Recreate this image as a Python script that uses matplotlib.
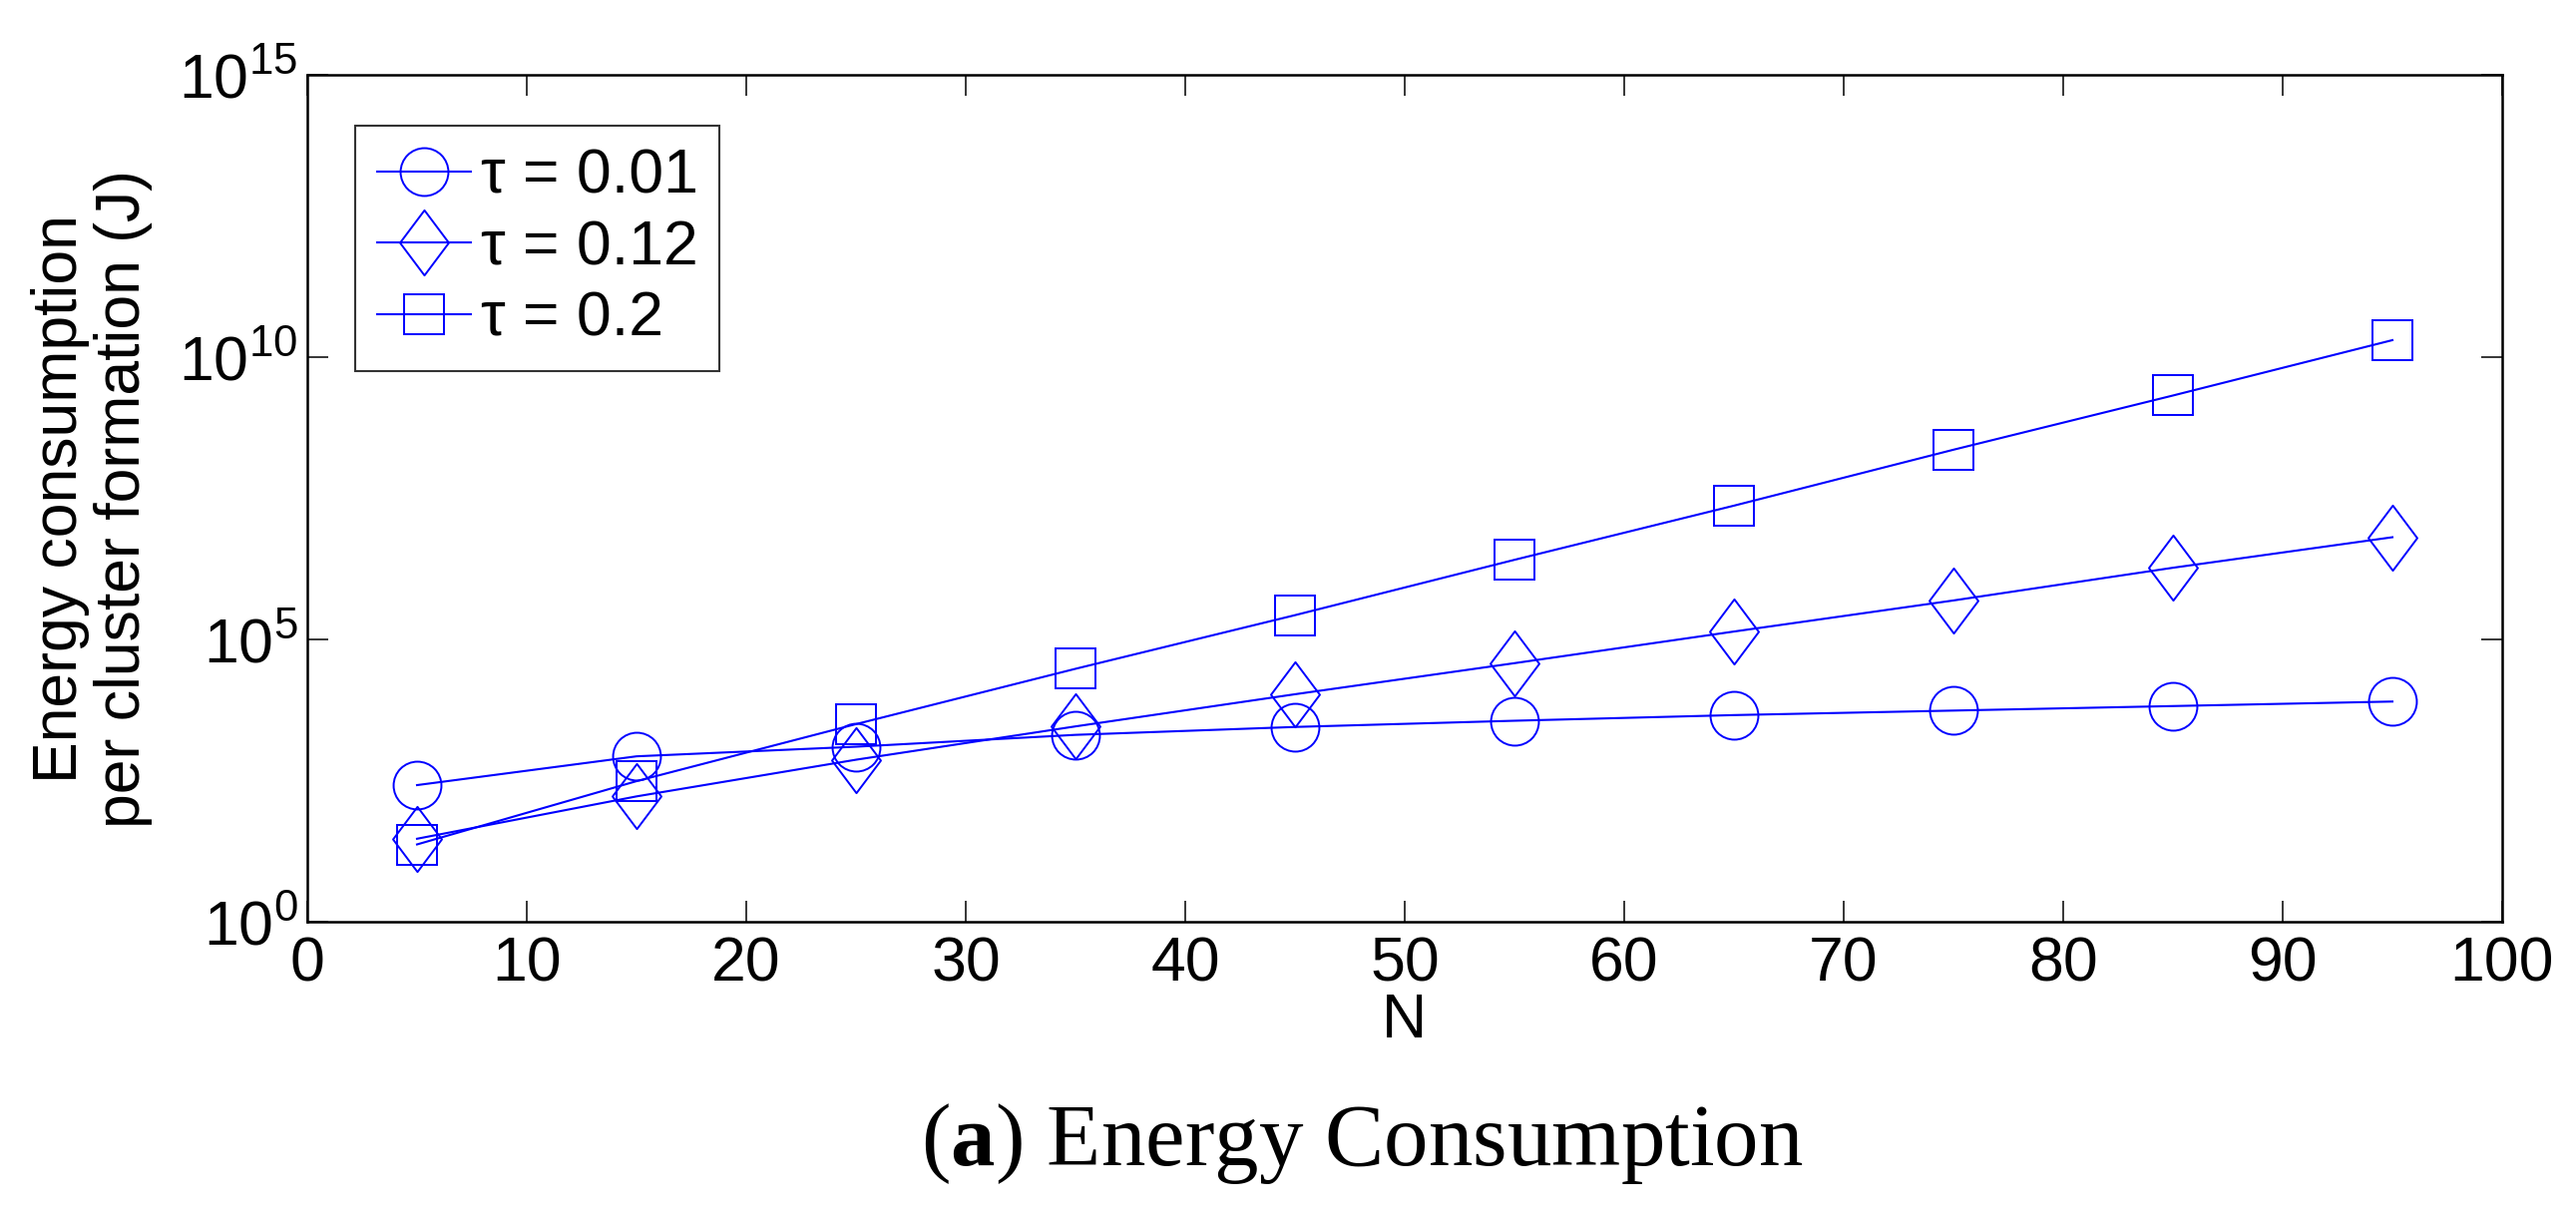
import numpy as np
import matplotlib
matplotlib.use('Agg')
import matplotlib.pyplot as plt
from matplotlib.path import Path
from matplotlib.ticker import FuncFormatter, NullLocator

plt.rcParams['font.family'] = ['Liberation Sans', 'DejaVu Sans']
plt.rcParams['mathtext.fontset'] = 'custom'
plt.rcParams['mathtext.rm'] = 'Liberation Sans'
plt.rcParams['mathtext.bf'] = 'Liberation Serif:bold'

# ---- data ----
N = [5, 15, 25, 35, 45, 55, 65, 75, 85, 95]
energy_tau_001 = [263, 851, 1259, 2042, 2818, 3631, 4571, 5495, 6607, 7943]
energy_tau_012 = [29.5, 166, 741, 2884, 1.07e4, 3.80e4, 1.38e5, 4.90e5, 1.86e6, 6.46e6]
energy_tau_02 = [23.4, 309, 3162, 3.02e4, 2.69e5, 2.57e6, 2.34e7, 2.29e8, 2.09e9, 2.0e10]
labels = ['τ = 0.01', 'τ = 0.12', 'τ = 0.2']
x_ticks = [0, 10, 20, 30, 40, 50, 60, 70, 80, 90, 100]
y_ticks = [1e0, 1e5, 1e10, 1e15]

W, H = 2582, 1226
fig = plt.figure(figsize=(W / 100, H / 100), dpi=100)
ax = fig.add_axes([308 / W, 1 - 924 / H, 2200 / W, 849 / H])

diamond = Path([(0, 1), (0.75, 0), (0, -1), (-0.75, 0), (0, 1)],
               [Path.MOVETO, Path.LINETO, Path.LINETO, Path.LINETO, Path.CLOSEPOLY])

blue = '#0000ff'
markers = ['o', diamond, 's']
sizes = [34.5, 47, 28.5]
for vals, mk, ms, lab in zip([energy_tau_001, energy_tau_012, energy_tau_02],
                             markers, sizes, labels):
    ax.plot(N, vals, color=blue, lw=1.5, marker=mk, ms=ms, mfc='none',
            mec=blue, mew=1.4, label=lab)

ax.set_yscale('log')
ax.set_ylim(1, 1e15)
ax.set_xlim(0, 100)
ax.set_yticks(y_ticks)
ax.yaxis.set_minor_locator(NullLocator())
ax.yaxis.set_major_formatter(FuncFormatter(
    lambda v, pos: r'$\mathregular{10^{%d}}$' % int(round(np.log10(v)))))
ax.set_xticks(x_ticks)

for sp in ax.spines.values():
    sp.set_linewidth(1.8)
ax.tick_params(which='both', direction='in', top=True, right=True,
               length=15, width=1.1, labelsize=45)
ax.tick_params(axis='x', pad=10)
ax.tick_params(axis='y', pad=7)

ax.set_xlabel('N', fontsize=45, labelpad=-2)
fig.text(92 / W, 1 - 500 / H, 'Energy consumption\nper cluster formation (J)',
         rotation=90, ha='center', va='center', fontsize=45, linespacing=1.1)

leg = ax.legend(loc='upper left', bbox_to_anchor=(0.0218, 0.940), borderaxespad=0,
                fontsize=45, frameon=True, fancybox=False, edgecolor='black',
                handlelength=1.5, handletextpad=0.16, borderpad=0.35,
                labelspacing=0.2)
leg.get_frame().set_linewidth(1.5)

fig.text(1365 / W, 1 - 1168 / H, r'($\mathbf{a}$) Energy Consumption',
         ha='center', va='baseline', family=['Liberation Serif', 'DejaVu Serif'],
         fontsize=64)

fig.savefig('out.png', dpi=100)
